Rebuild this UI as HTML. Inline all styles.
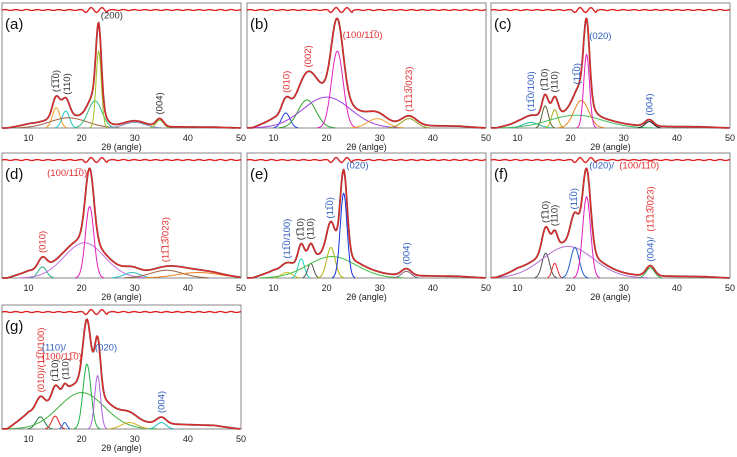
<!DOCTYPE html>
<html><head><meta charset="utf-8"><style>
body{margin:0;background:#fff;width:737px;height:457px;overflow:hidden}
svg{display:block}
text{font-family:"Liberation Sans","DejaVu Sans",sans-serif}
</style></head><body>
<svg id="fig" width="737" height="457" viewBox="0 0 737 457"></svg>
<script>
// Tick labels
const xTicks = [10, 20, 30, 40, 50];
// Per-panel peak components: [center(2θ), height(fraction), width(σ), color]
const peaksA = [[15.2,0.18,0.7,'#f0a020'],[17,0.15,0.7,'#20c8c8'],[17.5,0.09,3.5,'#a06040'],[22.5,0.24,1.3,'#30c080'],[23.2,0.68,0.5,'#a0c020'],[30,0.05,2,'#8090c0'],[34.7,0.07,0.7,'#90c030']];
const peaksB = [[12.3,0.16,0.8,'#2040e0'],[16.3,0.3,1.7,'#30a030'],[20,0.33,4.5,'#a040e0'],[22,0.82,1.1,'#e020c0'],[29.5,0.1,1.8,'#f0a030'],[35.5,0.1,1.4,'#90a020']];
const peaksC = [[12.5,0.06,1.5,'#20c0a0'],[15.2,0.24,0.6,'#606030'],[17,0.2,0.6,'#b0b020'],[21,0.14,5,'#40c060'],[22,0.3,1.4,'#f08020'],[23,0.8,0.55,'#e020c0'],[34.8,0.07,0.8,'#202020']];
const peaksD = [[12.6,0.1,0.8,'#20b080'],[20.5,0.32,3.8,'#c070e0'],[21.5,0.65,0.8,'#e020c0'],[29.5,0.05,1.5,'#30c0c0'],[36,0.07,3,'#a06040'],[42,0.05,4,'#f08020']];
const peaksE = [[12.5,0.05,1,'#d0c020'],[15.2,0.17,0.6,'#20d0c0'],[17,0.13,0.55,'#505050'],[21,0.19,4.5,'#40c040'],[20.8,0.27,0.8,'#b0b010'],[23.2,0.75,0.65,'#1030e0'],[35,0.06,0.9,'#806080']];
const peaksF = [[15.3,0.22,0.7,'#505050'],[17,0.13,0.5,'#e03030'],[19.5,0.28,4.8,'#b070d0'],[20.8,0.27,0.8,'#2060d0'],[23,0.72,0.75,'#e020c0'],[35,0.09,0.8,'#30b050']];
const peaksG = [[12.2,0.15,0.8,'#208040'],[15,0.16,0.65,'#e02020'],[16.8,0.08,0.4,'#2060e0'],[20,0.45,4.3,'#40b040'],[21,0.8,0.75,'#20b040'],[23,0.66,0.55,'#b060e0'],[29,0.08,1.5,'#d0b020'],[35,0.08,0.9,'#20c0c0']];
// Background (amorphous) amplitude per panel
const bgAmp = [0.03,0.08,0.05,0.06,0.06,0.05,0.18];
const panelNames = ['(a)','(b)','(c)','(d)','(e)','(f)','(g)'];
const panelPeaks = [peaksA,peaksB,peaksC,peaksD,peaksE,peaksF,peaksG];
// Labels: [2θ, height (non-rotated only), text, color, rotated]
const labelsA = [[15.2,0,'(1\u03051\u03050)','#333',1],[17.2,0,'(110)','#333',1],[23.6,0.97,'(200)','#333',0],[34.7,0,'(004)','#333',1]];
const labelsB = [[12.4,0,'(010)','#e03030',1],[16.5,0,'(002)','#e03030',1],[23,0.96,'(100/11\u03050)','#e03030',0],[35.5,0,'(11\u030513\u0305/023)','#e03030',1]];
const labelsC = [[12.5,0,'(11\u03050/100)','#3060c0',1],[15.1,0,'(1\u030510)','#333',1],[17,0,'(110)','#333',1],[21.2,0,'(11\u03050)','#3060c0',1],[23.5,0.97,'(020)','#3060c0',0],[34.8,0,'(004)','#3060c0',1]];
const labelsD = [[12.6,0,'(010)','#e03030',1],[13.5,0.93,'(100/11\u03050)','#e03030',0],[35.8,0,'(11\u030513\u0305/023)','#e03030',1]];
const labelsE = [[12.5,0,'(11\u03050/100)','#3060c0',1],[15.1,0,'(1\u030510)','#333',1],[17,0,'(110)','#333',1],[20.6,0,'(11\u03050)','#3060c0',1],[23.7,0.97,'(020)','#3060c0',0],[35,0,'(004)','#3060c0',1]];
const labelsF = [[15.3,0,'(1\u030510)','#333',1],[17,0,'(110)','#333',1],[20.6,0,'(11\u03050)','#3060c0',1],[23.5,0.97,'(020)/','#3060c0',0],[35,0,'(004)/','#3060c0',1]];
const labelsG = [[12.3,0,'(010)/(11\u03050/100)','#e03030',1],[15,0,'(1\u030510)','#333',1],[17,0,'(110)','#333',1],[12.5,0.97,'(110)/','#3060c0',0],[12.5,0.86,'(100/11\u03050)','#e03030',0],[22.5,0.97,'(020)','#3060c0',0],[35,0,'(004)','#3060c0',1]];
const panelLabels = [labelsA,labelsB,labelsC,labelsD,labelsE,labelsF,labelsG];

const NS='http://www.w3.org/2000/svg';
const svg=document.getElementById('fig');
const cols=[2,247,491], rows=[[3,128],[153,278],[305,429]];
const W=239;
function mk(t,a,p){const e=document.createElementNS(NS,t);for(const k in a)e.setAttribute(k,a[k]);(p||svg).appendChild(e);return e;}
function gauss(x,c,h,w){return h*Math.exp(-0.5*((x-c)/w)**2);}
function bg(x,a){return a*(x<10?Math.max(0,(x-6)/4):Math.exp(-(x-10)/25)*(x>45?(50-x)/5:1));}

panelPeaks.forEach((peaks,i)=>{
  const x0=cols[i%3], top=rows[Math.floor(i/3)][0], ay=rows[Math.floor(i/3)][1];
  const total=v=>{let y=bg(v,bgAmp[i]);peaks.forEach(p=>y+=gauss(v,p[0],p[1],p[2]));return y;};
  let mx=0;for(let v=5;v<=50;v+=0.05)mx=Math.max(mx,total(v));
  const H=113*Math.min(1,0.97/mx);
  const sx=v=>x0+(v-5)/45*W, sy=v=>ay-v*H;
  const g=mk('g',{});
  
  
  const fr=mk('rect',{x:x0,y:top,width:W,height:ay-top,fill:'none',stroke:'#888','stroke-width':1},g);
  
  
  let rd='';
  for(let v=5;v<=50;v+=0.25){const r=Math.sin(v*3.1)*(Math.abs(v-22.5)<2.5?2.5:0.5);rd+=(v===5?'M':'L')+sx(v).toFixed(1)+','+(top+7+r).toFixed(1);}
  const res0=mk('path',{d:rd,fill:'none',stroke:'#402020','stroke-width':1},g);
  
  
  const res=mk('path',{d:rd,fill:'none',stroke:'#e02020','stroke-width':1.3},g);
  
  
  peaks.forEach(p=>{
    let d='';let first=true;
    for(let v=5;v<=50;v+=0.1){const y=gauss(v,p[0],p[1],p[2]);if(y<0.002&&Math.abs(v-p[0])>p[2])continue;d+=(first?'M':'L')+sx(v).toFixed(1)+','+sy(y).toFixed(1);first=false;}
    const e=mk('path',{d:d,fill:'none',stroke:p[3],'stroke-width':1},g);
    
    
  });
  let td='';
  for(let v=5;v<=50;v+=0.1){td+=(v===5?'M':'L')+sx(v).toFixed(1)+','+sy(total(v)).toFixed(1);}
  const obs=mk('path',{d:td,fill:'none',stroke:'#7a3535','stroke-width':1.8},g);
  
  
  const fit=mk('path',{d:td,fill:'none',stroke:'#e82a2a','stroke-width':1.1},g);
  
  
  xTicks.forEach(t=>{
    const tl=mk('text',{x:sx(t),y:ay+13,'font-size':9,'text-anchor':'middle',fill:'#222'},g);
    tl.textContent=t;
    
    
  });
  const xt=mk('text',{x:x0+W/2,y:ay+22,'font-size':9,'text-anchor':'middle',fill:'#222'},g);
  xt.textContent=i===1?'2\u03b8 (anlge)':'2\u03b8 (angle)';
  
  
  const pl=mk('text',{x:x0+3,y:top+26,'font-size':15,fill:'#111'},g);
  pl.textContent=panelNames[i];
  
  
  panelLabels[i].forEach(l=>{
    let px=sx(l[0]), py;
    const t=mk('text',{'font-size':9.5,fill:l[3]},g);
    if(l[4]){py=sy(total(l[0]))-4;t.setAttribute('transform','rotate(-90 '+px+' '+py+')');t.setAttribute('x',px);t.setAttribute('y',py+3);}
    else{py=sy(l[1]);t.setAttribute('x',px);t.setAttribute('y',py);}
    t.textContent=l[2];
    
    
  });
  if(i===5){
    const t=mk('text',{x:sx(23.5)+30,y:sy(0.97),'font-size':9.5,fill:'#e03030'},g);
    t.textContent='(100/11\u03050)';
    
    
    const px=sx(35), py=sy(total(35))-34;
    const t2=mk('text',{x:px,y:py+3,'font-size':9.5,fill:'#e03030',transform:'rotate(-90 '+px+' '+py+')'},g);
    t2.textContent='(11\u030513\u0305/023)';
    
    
  }
});
</script>
</body></html>
